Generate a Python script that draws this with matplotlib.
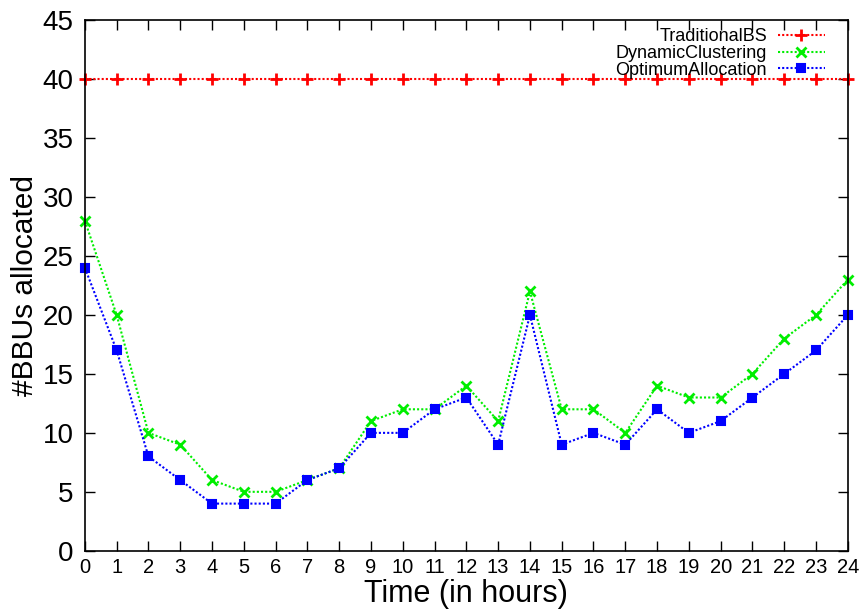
import matplotlib
matplotlib.use("Agg")
import matplotlib.pyplot as plt

plt.rcParams['font.family'] = ['Liberation Sans', 'DejaVu Sans']

# hourly BBU counts per allocation scheme
hours = list(range(25))
traditional_bs = [40] * 25
dynamic_clustering = [28, 20, 10, 9, 6, 5, 5, 6, 7, 11, 12, 12, 14, 11, 22,
                      12, 12, 10, 14, 13, 13, 15, 18, 20, 23]
optimum_allocation = [24, 17, 8, 6, 4, 4, 4, 6, 7, 10, 10, 12, 13, 9, 20,
                      9, 10, 9, 12, 10, 11, 13, 15, 17, 20]

fig = plt.figure(figsize=(8.66, 6.14), dpi=100)
ax = fig.add_axes([0.098, 0.103, 0.881, 0.864])

dots = (0, (1, 1))
ax.plot(hours, traditional_bs, color='#ff0000', linestyle=dots, linewidth=1.5,
        marker='+', markersize=8, markeredgewidth=2, label='TraditionalBS', clip_on=False)
ax.plot(hours, dynamic_clustering, color='#00ee00', linestyle=dots, linewidth=1.5,
        marker='x', markersize=7, markeredgewidth=2, label='DynamicClustering', clip_on=False)
ax.plot(hours, optimum_allocation, color='#0000ff', linestyle=dots, linewidth=1.5,
        marker='s', markersize=6, markeredgewidth=1.5, label='OptimumAllocation', clip_on=False)

ax.set_xlim(0, 24)
ax.set_ylim(0, 45)
ax.set_xticks(hours)
ax.set_yticks(range(0, 46, 5))
ax.tick_params(direction='in', top=True, right=True, length=7, width=1)
ax.tick_params(axis='y', labelsize=20, pad=8)
ax.tick_params(axis='x', labelsize=14.5, pad=5)
for s in ax.spines.values():
    s.set_linewidth(1.2)

ax.set_xlabel('Time (in hours)', fontsize=22, labelpad=2)
ax.set_ylabel('#BBUs allocated', fontsize=21.5, labelpad=3)

# legend: labels right-aligned, sample line to their right
leg = ax.legend(loc='upper right', bbox_to_anchor=(1 - 23 / 763, 1 - 8 / 531),
                borderaxespad=0, borderpad=0, frameon=False, markerfirst=False,
                fontsize=13, handlelength=2.6, labelspacing=-0.02, handletextpad=0.6)
for t in leg.get_texts():
    t.set_ha('right')

fig.savefig('out.png', dpi=100)
